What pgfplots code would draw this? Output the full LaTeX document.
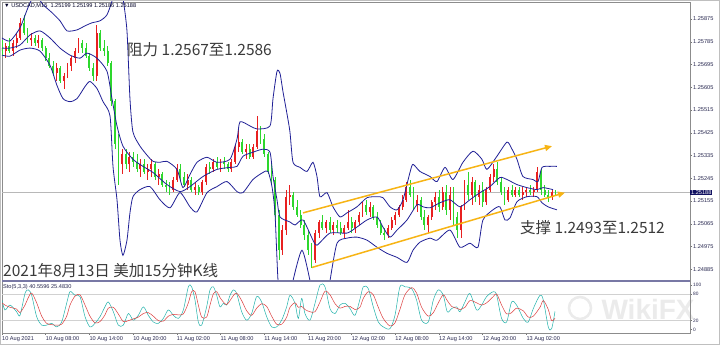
\documentclass[border=0pt]{standalone}
\usepackage{pgfplots}
\pgfplotsset{compat=1.18}
\usepackage{pgfplotstable}
\usepackage{fontspec}
\setmainfont{Liberation Sans}
\newfontfamily\cjk{Noto Sans CJK SC}
\usetikzlibrary{arrows.meta}
\definecolor{bbblue}{RGB}{32,32,150}
\definecolor{upred}{RGB}{232,32,32}
\definecolor{dngreen}{RGB}{45,215,45}
\definecolor{chan}{RGB}{247,180,20}
\definecolor{stok}{RGB}{32,178,170}
\definecolor{stod}{RGB}{220,60,60}
\definecolor{navy}{RGB}{16,16,96}
\definecolor{tlab}{RGB}{40,40,80}
\definecolor{annot}{RGB}{58,58,58}

\pgfplotstableread{
t o h l c
2 1.2576 1.2579 1.2573 1.2575
2.5 1.2575 1.2578 1.2572 1.2577
3 1.2577 1.2580 1.2574 1.2575
3.5 1.2575 1.2579 1.2573 1.2578
4 1.2578 1.2582 1.2576 1.2580
4.5 1.2580 1.2588 1.2579 1.2586
5 1.2586 1.2589 1.2581 1.2582
5.5 1.2582 1.2584 1.2578 1.2579
6 1.2579 1.2582 1.2577 1.2580
6.5 1.2580 1.2581 1.2577 1.2578
7 1.2578 1.2581 1.2576 1.2579
7.5 1.2579 1.2580 1.2575 1.2576
8 1.2576 1.2577 1.2571 1.2572
8.5 1.2572 1.2574 1.2568 1.2569
9 1.2569 1.2571 1.2565 1.2566
9.5 1.2566 1.2570 1.2563 1.2568
10 1.2568 1.2569 1.2562 1.2563
10.5 1.2563 1.2566 1.2560 1.2565
11 1.2565 1.2570 1.2564 1.2569
11.5 1.2569 1.2573 1.2567 1.2572
12 1.2572 1.2576 1.2570 1.2575
12.5 1.2575 1.2580 1.2574 1.2578
13 1.2578 1.2579 1.2574 1.2576
13.5 1.2576 1.2578 1.2572 1.2573
14 1.2573 1.2574 1.2567 1.2568
14.5 1.2568 1.2570 1.2563 1.2565
15 1.2565 1.2585 1.2563 1.2582
15.5 1.2582 1.2583 1.2575 1.2576
16 1.2576 1.2579 1.2573 1.2575
16.5 1.2575 1.2577 1.2569 1.2570
17 1.2570 1.2571 1.2553 1.2555
17.5 1.2555 1.2556 1.2536 1.2538
18 1.2538 1.2542 1.2522 1.2530
18.5 1.2530 1.2536 1.2526 1.2534
19 1.2534 1.2536 1.2528 1.2530
19.5 1.2530 1.2535 1.2527 1.2533
20 1.2533 1.2535 1.2529 1.2531
20.5 1.2531 1.2534 1.2527 1.2528
21 1.2528 1.2532 1.2525 1.2530
21.5 1.2530 1.2532 1.2526 1.2527
22 1.2527 1.2530 1.2524 1.2528
22.5 1.2528 1.2532 1.2525 1.2530
23 1.2530 1.2531 1.2524 1.2525
23.5 1.2525 1.2528 1.2522 1.2526
24 1.2526 1.2527 1.2521 1.2522
24.5 1.2522 1.2524 1.2519 1.2521
25 1.2521 1.2523 1.2518 1.2520
25.5 1.2520 1.2525 1.2519 1.2524
26 1.2524 1.2530 1.2523 1.2528
26.5 1.2528 1.2530 1.2524 1.2525
27 1.2525 1.2527 1.2521 1.2522
27.5 1.2522 1.2526 1.2520 1.2524
28 1.2524 1.2525 1.2519 1.2520
28.5 1.2520 1.2523 1.2518 1.2521
29 1.2521 1.2522 1.2518 1.2519
29.5 1.2519 1.2524 1.2518 1.2523
30 1.2523 1.2530 1.2522 1.2529
30.5 1.2529 1.2531 1.2526 1.2528
31 1.2528 1.2532 1.2527 1.2531
31.5 1.2531 1.2533 1.2528 1.2529
32 1.2529 1.2532 1.2527 1.2531
32.5 1.2531 1.2533 1.2528 1.2530
33 1.2530 1.2531 1.2527 1.2528
33.5 1.2528 1.2532 1.2527 1.2531
34 1.2531 1.2538 1.2530 1.2537
34.5 1.2537 1.2544 1.2535 1.2539
35 1.2539 1.2540 1.2534 1.2535
35.5 1.2535 1.2538 1.2532 1.2536
36 1.2536 1.2538 1.2532 1.2533
36.5 1.2533 1.2538 1.2532 1.2537
37 1.2537 1.2549 1.2536 1.2543
37.5 1.2543 1.2545 1.2538 1.2540
38 1.2540 1.2542 1.2533 1.2534
38.5 1.2534 1.2535 1.2526 1.2527
39 1.2527 1.2530 1.2522 1.2524
39.5 1.2524 1.2525 1.2508 1.2510
40 1.2510 1.2512 1.2492 1.2496
40.5 1.2496 1.2506 1.2494 1.2504
41 1.2504 1.2520 1.2502 1.2517
41.5 1.2517 1.2522 1.2514 1.2518
42 1.2518 1.2519 1.2512 1.2513
42.5 1.2513 1.2516 1.2509 1.2510
43 1.2510 1.2512 1.2505 1.2506
43.5 1.2506 1.2508 1.2500 1.2502
44 1.2502 1.2504 1.2494 1.2496
44.5 1.2496 1.2499 1.2489 1.2492
45 1.2492 1.2504 1.2491 1.2503
45.5 1.2503 1.2508 1.2501 1.2507
46 1.2507 1.2510 1.2504 1.2505
46.5 1.2505 1.2508 1.2503 1.2507
47 1.2507 1.2509 1.2503 1.2504
47.5 1.2504 1.2507 1.2502 1.2506
48 1.2506 1.2508 1.2503 1.2505
48.5 1.2505 1.2507 1.2502 1.2503
49 1.2503 1.2506 1.2501 1.2505
49.5 1.2505 1.2512 1.2504 1.2507
50 1.2507 1.2509 1.2503 1.2505
50.5 1.2505 1.2508 1.2503 1.2507
51 1.2507 1.2511 1.2506 1.2510
51.5 1.2510 1.2515 1.2509 1.2514
52 1.2514 1.2516 1.2510 1.2511
52.5 1.2511 1.2515 1.2509 1.2513
53 1.2513 1.2514 1.2508 1.2509
53.5 1.2509 1.2511 1.2505 1.2506
54 1.2506 1.2508 1.2502 1.2503
54.5 1.2503 1.2505 1.2500 1.2502
55 1.2502 1.2506 1.2501 1.2505
55.5 1.2505 1.2509 1.2504 1.2508
56 1.2508 1.2511 1.2506 1.2510
56.5 1.2510 1.2514 1.2509 1.2513
57 1.2513 1.2518 1.2512 1.2516
57.5 1.2516 1.2523 1.2515 1.2521
58 1.2521 1.2524 1.2517 1.2518
58.5 1.2518 1.2521 1.2512 1.2514
59 1.2514 1.2518 1.2511 1.2516
59.5 1.2516 1.2517 1.2508 1.2509
60 1.2509 1.2512 1.2504 1.2506
60.5 1.2506 1.2510 1.2503 1.2509
61 1.2509 1.2516 1.2508 1.2515
61.5 1.2515 1.2519 1.2512 1.2517
62 1.2517 1.2520 1.2511 1.2513
62.5 1.2513 1.2521 1.2512 1.2519
63 1.2519 1.2522 1.2510 1.2512
63.5 1.2512 1.2521 1.2508 1.2518
64 1.2518 1.2521 1.2506 1.2509
64.5 1.2509 1.2511 1.2501 1.2504
65 1.2504 1.2514 1.2501 1.2513
65.5 1.2513 1.2524 1.2512 1.2522
66 1.2522 1.2527 1.2516 1.2518
66.5 1.2518 1.2525 1.2514 1.2523
67 1.2523 1.2524 1.2515 1.2517
67.5 1.2517 1.2522 1.2514 1.2520
68 1.2520 1.2523 1.2513 1.2515
68.5 1.2515 1.2521 1.2514 1.2520
69 1.2520 1.2526 1.2519 1.2525
69.5 1.2525 1.2530 1.2523 1.2528
70 1.2528 1.2531 1.2522 1.2523
70.5 1.2523 1.2525 1.2518 1.2519
71 1.2519 1.2521 1.2514 1.2516
71.5 1.2516 1.2521 1.2515 1.2520
72 1.2520 1.2522 1.2517 1.2518
72.5 1.2518 1.2521 1.2517 1.2520
73 1.2520 1.2521 1.2517 1.2518
73.5 1.2518 1.2521 1.2516 1.2519
74 1.2519 1.2521 1.2517 1.2520
74.5 1.2520 1.2522 1.2518 1.2519
75 1.2519 1.2521 1.2517 1.2520
75.5 1.2520 1.2529 1.2519 1.2527
76 1.2527 1.2528 1.2518 1.2520
76.5 1.2520 1.2522 1.2517 1.2518
77 1.2518 1.2520 1.2515 1.2517
77.5 1.2517 1.2520 1.2516 1.2519
78 1.2519 1.2520 1.2518 1.25188
}\candles

\pgfplotstableread{
t p
2 1.2580
3.1 1.25788
4.47 1.2584
5.57 1.2592
6.53 1.25972
7.63 1.25932
8.87 1.2590
9.96 1.25868
10.93 1.25828
12.3 1.25832
13.4 1.25848
14.36 1.2586
15.46 1.25868
16.42 1.25892
17.24 1.2596
17.65 1.2604
18.2 1.2604
18.61 1.2596
19.16 1.25828
19.57 1.2556
19.98 1.25428
20.95 1.25372
22.04 1.25332
22.73 1.25312
23.69 1.25308
24.65 1.25312
26.03 1.2528
26.85 1.25208
27.81 1.2526
28.77 1.25308
30.15 1.25328
31.52 1.25308
33.3 1.2532
34.27 1.2540
34.68 1.25468
36.05 1.25452
37.01 1.2544
38.8 1.25452
39.21 1.2556
39.76 1.25668
40.17 1.2566
40.58 1.25588
41.13 1.2550
41.54 1.25428
41.96 1.25308
42.92 1.25288
43.88 1.25272
44.7 1.25308
45.25 1.25252
45.66 1.25172
46.63 1.25188
47.45 1.25132
48.41 1.25092
49.37 1.25108
50.74 1.25132
52.12 1.25168
53.49 1.25172
54.31 1.25168
55.27 1.25132
56.24 1.2512
57.06 1.2516
58.02 1.25268
58.43 1.2530
59.39 1.25272
60.77 1.25252
61.73 1.25232
62.83 1.25288
63.92 1.2524
65.29 1.25308
66.67 1.25352
67.9 1.2532
68.59 1.2528
69.96 1.25332
71.34 1.25388
72.03 1.2536
72.71 1.2532
73.53 1.25252
74.91 1.2524
75.6 1.25232
76.15 1.25288
77.24 1.25292
78.2 1.25292
}\bbupper

\pgfplotstableread{
t p
2 1.2576
3.1 1.2576
4.47 1.25772
5.85 1.25812
7.22 1.25828
8.59 1.2580
9.96 1.2576
11.34 1.25732
12.71 1.2572
13.67 1.2574
15.04 1.2572
16.42 1.25668
17.1 1.2556
17.79 1.25452
18.61 1.25372
19.98 1.2532
21.36 1.25292
22.73 1.25268
24.65 1.2522
26.44 1.25192
27.81 1.25212
29.6 1.25252
31.52 1.2528
33.3 1.25288
34.27 1.25292
35.09 1.25332
36.46 1.25348
37.84 1.2536
38.8 1.25348
39.21 1.25252
39.76 1.2516
40.17 1.25092
41.54 1.25072
42.24 1.2506
43.33 1.2508
44.7 1.2500
45.25 1.2498
47.04 1.25028
49.37 1.25028
50.74 1.25052
52.12 1.2508
53.49 1.25092
54.31 1.25052
55.27 1.25012
56.24 1.2504
57.61 1.2508
58.98 1.2514
59.8 1.25132
60.77 1.25128
62.14 1.25148
63.51 1.2516
64.88 1.25132
66.25 1.2516
67.63 1.25188
69 1.25212
70.37 1.25248
71.34 1.2524
72.71 1.2522
74.08 1.25208
75.46 1.2520
76.29 1.25208
77.66 1.2520
}\bbmiddle

\pgfplotstableread{
t p
2 1.25732
3.1 1.25728
4.47 1.25752
5.85 1.2576
7.22 1.25748
8.59 1.25692
9.55 1.25612
10.38 1.2556
11.34 1.25548
12.3 1.2556
13.4 1.25608
14.08 1.25628
15.04 1.2560
15.87 1.25548
16.83 1.25492
17.24 1.25292
17.79 1.2516
18.2 1.2500
18.61 1.2494
19.16 1.2500
19.57 1.25108
19.98 1.25172
20.95 1.2520
22.32 1.25212
23.69 1.2516
25.07 1.25128
26.44 1.25188
27.81 1.25132
28.77 1.25112
30.15 1.25188
31.52 1.25212
32.89 1.25232
34.27 1.25192
35.09 1.25188
36.46 1.2524
37.84 1.25268
38.52 1.25272
39.07 1.25212
39.48 1.25108
39.9 1.2484
40.31 1.2476
41.54 1.2476
41.96 1.2484
43.19 1.2496
44.29 1.2484
44.7 1.2476
46.63 1.2476
47.04 1.2484
48 1.24988
49.37 1.25008
50.74 1.25012
52.12 1.2500
53.49 1.24972
54.86 1.24948
56.24 1.24932
57.61 1.24912
58.43 1.2496
59.39 1.24992
60.77 1.25008
61.73 1.2500
63.51 1.2504
64.88 1.24972
66.25 1.24988
67.35 1.24972
68.04 1.2508
69.41 1.2512
70.37 1.25132
71.06 1.2508
71.75 1.25088
72.71 1.25152
74.08 1.25172
75.46 1.25172
76.15 1.25148
76.97 1.25132
78.2 1.2512
}\bblower

\pgfplotstableread{
t k d
2.0 66 60
2.41 44 55
3.1 55 50
4.01 40 46
4.47 32 38
5.16 81 55
5.62 89 72
6.07 77 82
6.76 29 60
7.45 10 30
8.13 10 14
8.82 14 11
9.51 6 10
10.19 17 12
10.88 59 30
11.34 85 55
12.02 77 75
12.71 74 78
13.4 29 55
14.08 6 30
14.77 14 15
15.46 29 18
16.14 51 33
16.6 62 48
17.29 40 50
17.97 10 35
18.66 10 18
19.35 36 20
20.03 21 24
20.72 32 28
21.41 51 36
22.09 32 38
22.78 17 30
23.47 14 20
24.15 25 19
24.84 44 30
25.53 32 34
26.21 25 33
26.9 44 35
27.59 96 60
28.04 96 85
28.5 66 85
28.96 17 55
29.42 10 28
30.1 51 28
30.56 89 55
31.02 96 80
31.48 77 85
31.93 51 72
32.39 59 62
32.85 55 56
33.31 77 65
33.76 89 76
34.22 81 82
34.91 40 65
35.6 21 42
36.28 36 32
36.97 74 48
37.65 62 58
38.34 29 52
39.03 6 30
39.71 6 12
40.4 21 12
41.09 51 28
41.54 77 50
42.23 59 60
42.69 25 50
43.15 70 52
43.6 36 45
44.29 21 40
44.98 59 40
45.67 100 62
46.35 96 86
47.04 47 78
47.73 36 58
48.41 55 48
49.1 59 52
49.79 47 52
50.47 32 45
51.15 68 50
51.61 96 70
52.29 92 85
52.98 51 78
53.67 17 50
54.35 6 25
55.27 2 8
55.96 32 15
56.64 96 45
57.33 96 78
58.24 92 94
58.93 66 82
59.62 21 50
60.53 17 30
61.22 66 38
61.91 89 60
62.59 77 78
63.14 40 65
63.74 47 52
64.42 51 48
64.88 40 45
65.57 62 50
66.25 81 65
67.17 44 60
67.86 55 55
68.54 74 60
69.46 85 74
69.92 77 80
70.6 25 55
71.29 17 35
71.98 62 38
72.66 55 48
73.58 25 42
74.26 17 28
74.95 47 30
75.87 77 50
76.33 66 65
77.01 6 45
77.47 2 20
77.93 40.56 25.48
}\sto

\pgfplotsset{
  mtbase/.style={
    scale only axis, width=688pt, xmin=2, xmax=96.47,
    axis line style={draw=black!45, line width=0.5pt},
    tick style={draw=black!55, line width=0.4pt},
    tick align=outside, major tick length=2pt,
    ytick pos=right, yticklabel pos=right,
    ticklabel style={font=\fontsize{5.6}{6}\selectfont, text=tlab, inner sep=1pt},
    clip mode=individual,
  }
}

\begin{document}
\begin{tikzpicture}
\useasboundingbox (0,0) rectangle (720pt,345pt);
\fill[white] (0,0) rectangle (720pt,345pt);

% watermark (behind everything)
\node[anchor=west, text=black!8, font=\fontsize{28}{30}\selectfont\bfseries] at (598pt,36pt) {WikiFX};
\draw[black!8, line width=2.5pt] (580pt,37pt) circle (11pt);

% ---------------- main price panel
\begin{axis}[mtbase,
  at={(2pt,64pt)}, anchor=south west, height=279pt,
  ymin=1.248385, ymax=1.259423,
  xtick=\empty,
  ytick={1.24885,1.24975,1.25065,1.25155,1.25245,1.25335,1.25425,1.25515,1.25605,1.25695,1.25785,1.25875},
  yticklabels={1.24885,1.24975,1.25065,1.25155,1.25245,1.25335,1.25425,1.25515,1.25605,1.25695,1.25785,1.25875},
]
% current price line
\addplot[black!28, line width=0.5pt] coordinates {(2,1.25188) (96.47,1.25188)};

% wicks up
\addplot[draw=none, forget plot,
  error bars/.cd, y dir=both, y explicit, error mark=none,
  error bar style={draw=upred, line width=0.45pt}]
  table[x=t, y=o, y error plus expr=\thisrow{h}-\thisrow{o}, y error minus expr=\thisrow{o}-\thisrow{l},
        restrict expr to domain={\thisrow{c}-\thisrow{o}}{0:1}] {\candles};
% wicks down
\addplot[draw=none, forget plot,
  error bars/.cd, y dir=both, y explicit, error mark=none,
  error bar style={draw=dngreen, line width=0.45pt}]
  table[x=t, y=o, y error plus expr=\thisrow{h}-\thisrow{o}, y error minus expr=\thisrow{o}-\thisrow{l},
        restrict expr to domain={\thisrow{c}-\thisrow{o}}{-1:-0.000005}] {\candles};
% bodies up
\addplot[draw=none, forget plot,
  error bars/.cd, y dir=plus, y explicit, error mark=none,
  error bar style={draw=upred, line width=1.9pt}]
  table[x=t, y=o, y error plus expr=\thisrow{c}-\thisrow{o},
        restrict expr to domain={\thisrow{c}-\thisrow{o}}{0:1}] {\candles};
% bodies down
\addplot[draw=none, forget plot,
  error bars/.cd, y dir=minus, y explicit, error mark=none,
  error bar style={draw=dngreen, line width=1.9pt}]
  table[x=t, y=o, y error minus expr=\thisrow{o}-\thisrow{c},
        restrict expr to domain={\thisrow{c}-\thisrow{o}}{-1:-0.000005}] {\candles};

% Bollinger bands
\addplot[bbblue, line width=0.8pt, smooth, tension=0.4] table[x=t, y=p] {\bbupper};
\addplot[bbblue, line width=0.8pt, smooth, tension=0.4] table[x=t, y=p] {\bbmiddle};
\addplot[bbblue, line width=0.8pt, smooth, tension=0.4] table[x=t, y=p] {\bblower};

% channel
\addplot[chan, line width=1.5pt, -{Triangle[length=7pt,width=6pt]}] coordinates {(43.33,1.25108) (77.52,1.25372)};
\addplot[chan, line width=1.5pt, -{Triangle[length=7pt,width=6pt]}] coordinates {(44.56,1.24892) (79.3,1.25188)};

% price tag
\node[fill=navy, text=white, anchor=west, inner xsep=1pt, inner ysep=0.6pt,
  font=\fontsize{5.6}{6}\selectfont] at (axis cs:96.47,1.25188) {1.25188};
\end{axis}

% ---------------- stochastic panel
\begin{axis}[mtbase,
  at={(2pt,12pt)}, anchor=south west, height=52pt,
  ymin=-7.7, ymax=109,
  ytick={0,20,80,100}, yticklabels={0,20,80,100},
  yticklabel style={anchor=west, inner sep=0pt, xshift=1pt, font=\fontsize{4.8}{5}\selectfont},
  xtick pos=left,
  xtick={2,8,14,20,26,32,38,44,50,56,62,68,74},
  xticklabels={10 Aug 2021,10 Aug 08:00,10 Aug 14:00,10 Aug 20:00,11 Aug 02:00,11 Aug 08:00,11 Aug 14:00,11 Aug 20:00,12 Aug 02:00,12 Aug 08:00,12 Aug 14:00,12 Aug 20:00,13 Aug 02:00},
  xticklabel style={anchor=north west, xshift=-1pt},
]
\addplot[black!18, line width=0.5pt] coordinates {(2,80) (96.47,80)};
\addplot[black!18, line width=0.5pt] coordinates {(2,20) (96.47,20)};
\addplot[stok, line width=0.5pt, smooth, tension=0.5] table[x=t, y=k] {\sto};
\addplot[stod, line width=0.5pt, smooth, tension=0.5] table[x=t, y=d] {\sto};
\end{axis}

% separator between panels
\draw[draw={rgb,255:red,120;green,120;blue,165}, line width=1.6pt] (2pt,64pt) -- (690pt,64pt);

% texts
\node[anchor=west, inner sep=0pt, text=black!85!blue, font=\fontsize{5.6}{6}\selectfont] at (4pt,339pt) {▼ USDCAD,M15\ \ 1.25199 1.25199 1.25186 1.25188};
\node[anchor=west, inner sep=0pt, text=tlab, font=\fontsize{5.6}{6}\selectfont] at (3pt,58pt) {Sto(5,3,3) 40.5596 25.4830};
\node[anchor=west, inner sep=0pt, text=annot, font=\cjk\fontsize{15.5}{17}\selectfont] at (127pt,295pt) {阻力 1.2567至1.2586};
\node[anchor=west, inner sep=0pt, text=annot, font=\cjk\fontsize{15.5}{17}\selectfont] at (520pt,117pt) {支撑 1.2493至1.2512};
\node[anchor=west, inner sep=0pt, text=annot, font=\cjk\fontsize{15.5}{17}\selectfont] at (3pt,74.5pt) {2021年8月13日 美加15分钟K线};

% outer frame
\draw[black!25, line width=0.6pt] (0.3pt,0.3pt) rectangle (719.7pt,344.7pt);
\end{tikzpicture}
\end{document}
